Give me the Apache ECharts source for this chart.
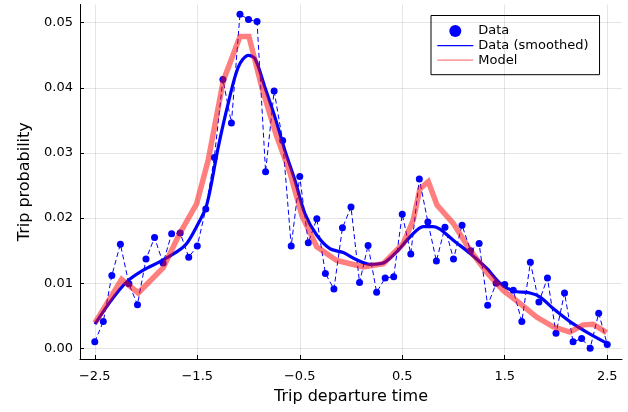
<!DOCTYPE html>
<html>
<head>
<meta charset="utf-8">
<script src="https://cdn.jsdelivr.net/npm/echarts@6/dist/echarts.min.js"></script>
<style>html,body{margin:0;padding:0;background:#fff;}#c{width:628px;height:412px;}</style>
</head>
<body>
<div id="c"></div>
<script>
// ---- data ----
const dataX = [-2.5,-2.4167,-2.3333,-2.25,-2.1667,-2.0833,-2.0,-1.9167,-1.8333,-1.75,-1.6667,-1.5833,-1.5,-1.4167,-1.3333,-1.25,-1.1667,-1.0833,-1.0,-0.9167,-0.8333,-0.75,-0.6667,-0.5833,-0.5,-0.4167,-0.3333,-0.25,-0.1667,-0.0833,0.0,0.0833,0.1667,0.25,0.3333,0.4167,0.5,0.5833,0.6667,0.75,0.8333,0.9167,1.0,1.0833,1.1667,1.25,1.3333,1.4167,1.5,1.5833,1.6667,1.75,1.8333,1.9167,2.0,2.0833,2.1667,2.25,2.3333,2.4167,2.5];
const dataY = [0.0010,0.0041,0.0112,0.0160,0.0099,0.0067,0.0137,0.0170,0.0131,0.0176,0.0177,0.0140,0.0157,0.0214,0.0293,0.0413,0.0346,0.0513,0.0505,0.0502,0.0271,0.0395,0.0319,0.0157,0.0264,0.0162,0.0199,0.0115,0.0091,0.0185,0.0217,0.0101,0.0158,0.0086,0.0108,0.0110,0.0206,0.0145,0.0260,0.0194,0.0134,0.0186,0.0137,0.0189,0.0150,0.0161,0.0066,0.0100,0.0098,0.0089,0.0041,0.0132,0.0071,0.0108,0.0023,0.0085,0.0010,0.0015,0.0000,0.0054,0.0006];

const smoothX = [-2.498,-2.352,-2.189,-2.027,-1.864,-1.701,-1.603,-1.506,-1.408,-1.295,-1.198,-1.100,-1.002,-0.937,-0.840,-0.742,-0.645,-0.547,-0.450,-0.335,-0.206,-0.076,0.055,0.185,0.315,0.445,0.575,0.705,0.802,0.868,0.998,1.160,1.323,1.454,1.583,1.746,1.843,1.973,2.136,2.299,2.494];
const smoothY = [0.0037,0.0071,0.0102,0.0120,0.0133,0.0148,0.0161,0.0187,0.0220,0.0309,0.0376,0.0432,0.0450,0.0445,0.0401,0.0355,0.0304,0.0258,0.0207,0.0174,0.0153,0.0147,0.0136,0.0129,0.0131,0.0148,0.0171,0.0187,0.0187,0.0183,0.0166,0.0146,0.0123,0.0100,0.0088,0.0085,0.0079,0.0061,0.0041,0.0025,0.0008];

const modelX = [-2.498,-2.238,-2.076,-1.832,-1.679,-1.506,-1.393,-1.246,-1.083,-0.996,-0.869,-0.732,-0.596,-0.479,-0.335,-0.140,0.120,0.315,0.510,0.607,0.673,0.754,0.839,0.998,1.160,1.323,1.485,1.648,1.811,1.973,2.136,2.266,2.363,2.494];
const modelY = [0.0039,0.0106,0.0085,0.0124,0.0174,0.0222,0.0289,0.0411,0.0479,0.0479,0.0400,0.0329,0.0270,0.0204,0.0156,0.0135,0.0125,0.0130,0.0161,0.0197,0.0245,0.0256,0.0220,0.0192,0.0151,0.0117,0.0089,0.0069,0.0048,0.0033,0.0025,0.0036,0.0037,0.0024];

const xTicks = [-2.5,-1.5,-0.5,0.5,1.5,2.5];
const yTicks = [0.00,0.01,0.02,0.03,0.04,0.05];

const zip = (a,b) => a.map((v,i)=>[v,b[i]]);
const FONT = 'DejaVu Sans';

const gridMarks = [];
xTicks.forEach(v => gridMarks.push({xAxis: v}));
yTicks.forEach(v => gridMarks.push({yAxis: v}));

const chart = echarts.init(document.getElementById('c'), null, {renderer:'canvas'});
chart.setOption({
  animation: false,
  backgroundColor: '#fff',
  textStyle: {fontFamily: FONT},
  grid: {left: 80, right: 6, top: 4.5, bottom: 53, containLabel: false},
  xAxis: {
    type: 'value', min: -2.644, max: 2.644,
    name: 'Trip departure time', nameLocation: 'middle', nameGap: 30,
    nameTextStyle: {fontFamily: FONT, fontSize: 16, color: '#000'},
    axisLine: {show: true, onZero: false, lineStyle: {color: '#000', width: 1}},
    axisTick: {show: true, inside: true, length: 4, customValues: xTicks, lineStyle: {color: '#000'}},
    axisLabel: {show: true, customValues: xTicks, fontFamily: FONT, fontSize: 13, color: '#000', margin: 11,
      formatter: v => (v < 0 ? '\u2212' + Math.abs(v).toFixed(1) : v.toFixed(1))},
    splitLine: {show: false}
  },
  yAxis: {
    type: 'value', min: -0.00164, max: 0.0528,
    name: 'Trip probability', nameLocation: 'middle', nameGap: 47,
    nameTextStyle: {fontFamily: FONT, fontSize: 16, color: '#000'},
    axisLine: {show: true, onZero: false, lineStyle: {color: '#000', width: 1}},
    axisTick: {show: true, inside: true, length: 4, customValues: yTicks, lineStyle: {color: '#000'}},
    axisLabel: {show: true, customValues: yTicks, fontFamily: FONT, fontSize: 13, color: '#000', margin: 7,
      formatter: v => v.toFixed(2)},
    splitLine: {show: false}
  },
  legend: {
    orient: 'vertical', left: 431, top: 15.5,
    backgroundColor: '#fff', borderColor: '#000', borderWidth: 1, borderRadius: 0,
    padding: [9, 11, 8, 5.7],
    itemWidth: 36, itemHeight: 12, itemGap: 1.6,
    textStyle: {fontFamily: FONT, fontSize: 13, color: '#000', lineHeight: 13},
    lineStyle: {width: 1.2},
    data: [
      {name: 'Data', icon: 'circle', itemStyle: {color: '#0000ff', opacity: 1}},
      {name: 'Data (smoothed)', itemStyle: {opacity: 0}},
      {name: 'Model', itemStyle: {opacity: 0}}
    ]
  },
  series: [
    {
      name: 'grid', type: 'line', data: [], silent: true, z: 0,
      markLine: {silent: true, symbol: 'none', label: {show: false},
        lineStyle: {color: 'rgba(0,0,0,0.1)', width: 1, type: 'solid'},
        emphasis: {disabled: true}, data: gridMarks}
    },
    {
      name: 'dash', type: 'line', data: zip(dataX, dataY), showSymbol: false, symbol: 'none',
      lineStyle: {color: '#0000ff', width: 1, type: [5, 3]}, z: 2
    },
    {
      name: 'Data', type: 'scatter', data: zip(dataX, dataY), symbol: 'circle', symbolSize: 7,
      itemStyle: {color: '#0000ff', opacity: 1}, z: 3
    },
    {
      name: 'Data (smoothed)', type: 'line', data: zip(smoothX, smoothY), symbol: 'none', smooth: 0.3,
      lineStyle: {color: '#0000ff', width: 3.2}, itemStyle: {color: '#0000ff'}, z: 4
    },
    {
      name: 'Model', type: 'line', data: zip(modelX, modelY), symbol: 'none',
      lineStyle: {color: 'rgba(255,0,0,0.5)', width: 5.5, join: 'miter'}, itemStyle: {color: 'rgba(255,0,0,0.5)'}, z: 5
    }
  ]
});
</script>
</body>
</html>
